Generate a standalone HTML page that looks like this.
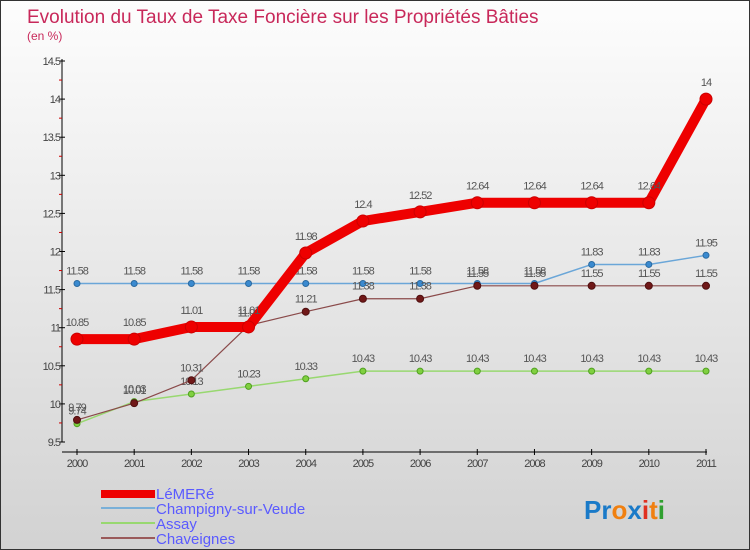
<!DOCTYPE html>
<html><head><meta charset="utf-8"><style>
body{margin:0}
#c{width:748px;height:548px;border:1px solid #333;background:linear-gradient(#fdfdfd,#d2d2d2);position:relative;font-family:"Liberation Sans",sans-serif;overflow:hidden}
</style></head><body>
<div id="c">
<svg id="s" width="748" height="548" style="position:absolute;left:0;top:0">
<text x="26" y="22" font-size="19" fill="#c8285a">Evolution du Taux de Taxe Foncière sur les Propriétés Bâties</text>
<text x="26" y="39" font-size="12" fill="#c8285a">(en %)</text>
<g id="axes"></g><g id="series"></g>
<g>
<rect x="100" y="489" width="54" height="8" fill="#e00"/>
<text x="155" y="498" font-size="15" fill="#5a5aff">LéMERé</text>
<rect x="100" y="506" width="54" height="2" fill="#7ab0d8"/>
<text x="155" y="513" font-size="15" fill="#5a5aff">Champigny-sur-Veude</text>
<rect x="100" y="521" width="54" height="2" fill="#98d870"/>
<text x="155" y="528" font-size="15" fill="#5a5aff">Assay</text>
<rect x="100" y="536" width="54" height="2" fill="#9a5a5a"/>
<text x="155" y="543" font-size="15" fill="#5a5aff">Chaveignes</text>
</g>
<text x="583" y="518" font-size="26" font-weight="bold"><tspan fill="#1a7ac8">Pr</tspan><tspan fill="#f08010">o</tspan><tspan fill="#1a7ac8">x</tspan><tspan fill="#e03020">i</tspan><tspan fill="#f08010">t</tspan><tspan fill="#30a030">i</tspan></text>
</svg></div>
<script>
const years=[2000,2001,2002,2003,2004,2005,2006,2007,2008,2009,2010,2011];
const yTicks=[9.5,10,10.5,11,11.5,12,12.5,13,13.5,14,14.5];
const lemere=[10.85,10.85,11.01,11.01,11.98,12.4,12.52,12.64,12.64,12.64,12.64,14];
const champigny=[11.58,11.58,11.58,11.58,11.58,11.58,11.58,11.58,11.58,11.83,11.83,11.95];
const assay=[9.74,10.03,10.13,10.23,10.33,10.43,10.43,10.43,10.43,10.43,10.43,10.43];
const chaveignes=[9.79,10.01,10.31,11.03,11.21,11.38,11.38,11.55,11.55,11.55,11.55,11.55];
const NS="http://www.w3.org/2000/svg";
const X=i=>76+i*(705-76)/(years.length-1);
const Y=v=>441-(v-9.5)*76.2;
function mk(t,a,p){const e=document.createElementNS(NS,t);for(const k in a)e.setAttribute(k,a[k]);p.appendChild(e);return e;}
const ax=document.getElementById('axes');
let l=mk('line',{x1:61,y1:58,x2:61,y2:441,stroke:'#000'},ax);


l=mk('line',{x1:61,y1:451,x2:706,y2:451,stroke:'#000'},ax);


yTicks.forEach(v=>{
 mk('line',{x1:58,y1:Y(v),x2:64,y2:Y(v),stroke:'#000'},ax);
 if(v<14.5)mk('line',{x1:58,y1:Y(v+0.25),x2:61,y2:Y(v+0.25),stroke:'#c00'},ax);
 const t=mk('text',{x:59,y:Y(v)+4,'font-size':11,fill:'#444','text-anchor':'end','letter-spacing':'-1'},ax);
 t.textContent=String(v);
 
 
});
years.forEach((y,i)=>{
 mk('line',{x1:X(i),y1:448,x2:X(i),y2:454,stroke:'#000'},ax);
 const t=mk('text',{x:X(i),y:466,'font-size':11,fill:'#444','text-anchor':'middle','letter-spacing':'-1'},ax);
 t.textContent=y;
 
 
});
const sg=document.getElementById('series');
function series(name,data,color,w,r,dot,dotStroke){
 const g=mk('g',{},sg);
 
 
 const p=mk('polyline',{points:data.map((v,i)=>X(i)+','+Y(v)).join(' '),fill:'none',stroke:color,'stroke-width':w,'stroke-linejoin':'round'},g);
 
 
 data.forEach((v,i)=>{
  const c=mk('circle',{cx:X(i),cy:Y(v),r:r,fill:dot,stroke:dotStroke,'stroke-width':1},g);
  
  
  const t=mk('text',{x:X(i),y:Y(v)-9-(r>5?4:0),'font-size':11,fill:'#555','text-anchor':'middle','letter-spacing':'-1'},g);
  t.textContent=String(v);
  
  
 });
}
series('champigny',champigny,'#6aa6d8',1.5,3,'#3a8ad0','#2a6aa0');
series('assay',assay,'#98d870',1.5,3,'#80d040','#50a020');
series('chaveignes',chaveignes,'#8a4a4a',1.2,3.5,'#701818','#501010');
series('lemere',lemere,'#ee0000',10,6,'#ee0000','#cc0000');
</script>
</body></html>
